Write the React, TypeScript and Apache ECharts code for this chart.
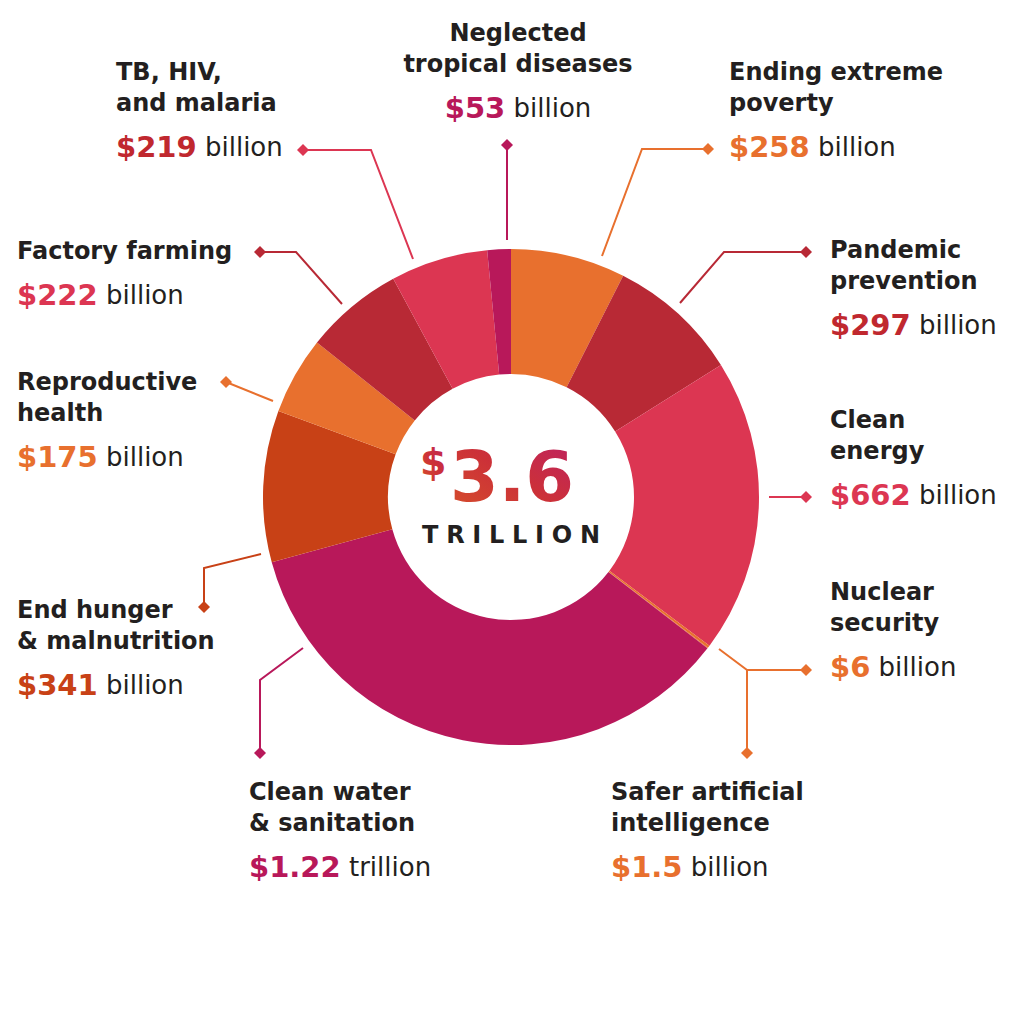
import { useEffect, useRef } from "react";
import * as echarts from "echarts";

// Funding needs, in billions of dollars, clockwise from 12 o'clock
const categories = [
    "Ending extreme poverty",
    "Pandemic prevention",
    "Clean energy",
    "Nuclear security",
    "Safer artificial intelligence",
    "Clean water & sanitation",
    "End hunger & malnutrition",
    "Reproductive health",
    "Factory farming",
    "TB, HIV, and malaria",
    "Neglected tropical diseases",
];
const values = [258, 297, 662, 6, 1.5, 1220, 341, 175, 222, 219, 53];
const titleLines = [
    ["Ending extreme", "poverty"],
    ["Pandemic", "prevention"],
    ["Clean", "energy"],
    ["Nuclear", "security"],
    ["Safer artificial", "intelligence"],
    ["Clean water", "& sanitation"],
    ["End hunger", "& malnutrition"],
    ["Reproductive", "health"],
    ["Factory farming"],
    ["TB, HIV,", "and malaria"],
    ["Neglected", "tropical diseases"],
];
const amountLabels = ["$258", "$297", "$662", "$6", "$1.5", "$1.22", "$341", "$175", "$222", "$219", "$53"];
const unitLabels = ["billion", "billion", "billion", "billion", "billion", "trillion", "billion", "billion", "billion", "billion", "billion"];
const totalDollar = "$";
const totalAmount = "3.6";
const totalUnit = "TRILLION";

// styles
const ORANGE = "#E8702E";
const DARK_RED = "#B82935";
const PINK_RED = "#DC3652";
const MAGENTA = "#B8185A";
const BURNT = "#C84116";
const INK = "#231F20";
const FONT = "'DejaVu Sans', Verdana, sans-serif";

const sliceColors = [ORANGE, DARK_RED, PINK_RED, ORANGE, ORANGE, MAGENTA, BURNT, ORANGE, DARK_RED, PINK_RED, MAGENTA];
const amountColors = [ORANGE, "#C0282F", PINK_RED, ORANGE, ORANGE, MAGENTA, BURNT, ORANGE, PINK_RED, "#C0282F", MAGENTA];
const leaderColors = [ORANGE, DARK_RED, PINK_RED, ORANGE, ORANGE, MAGENTA, BURNT, ORANGE, DARK_RED, PINK_RED, MAGENTA];

// annotation layout: leader polyline, diamond end, text anchor (x, first baseline)
const layout: { line: number[][]; diamond: number[]; x: number; base: number; align: string }[] = [
    { line: [[602, 256], [642, 149], [708, 149]], diamond: [708, 149], x: 729, base: 80, align: "left" },
    { line: [[680, 303], [724, 252], [806, 252]], diamond: [806, 252], x: 830, base: 258, align: "left" },
    { line: [[769, 497], [806, 497]], diamond: [806, 497], x: 830, base: 428, align: "left" },
    { line: [[747, 670], [806, 670]], diamond: [806, 670], x: 830, base: 600, align: "left" },
    { line: [[719, 649], [747, 670], [747, 753]], diamond: [747, 753], x: 611, base: 800, align: "left" },
    { line: [[303, 648], [260, 680], [260, 753]], diamond: [260, 753], x: 249, base: 800, align: "left" },
    { line: [[261, 554], [204, 568], [204, 607]], diamond: [204, 607], x: 17, base: 618, align: "left" },
    { line: [[273, 401], [226, 382]], diamond: [226, 382], x: 17, base: 390, align: "left" },
    { line: [[342, 304], [296, 252], [260, 252]], diamond: [260, 252], x: 17, base: 259, align: "left" },
    { line: [[413, 259], [371, 150], [303, 150]], diamond: [303, 150], x: 116, base: 80, align: "left" },
    { line: [[507, 240], [507, 145]], diamond: [507, 145], x: 518, base: 41, align: "center" },
];

const TITLE_SIZE = 24;
const AMOUNT_SIZE = 29;
const UNIT_SIZE = 26;
const LINE_GAP = 31.5;
const VALUE_GAP = 46;
const MID = 0.346; // central baseline offset, in em

function buildGraphics(): any[] {
    const out: any[] = [];
    categories.forEach((_, i) => {
        const L = layout[i];
        const color = leaderColors[i];
        out.push({
            type: "polyline",
            silent: true,
            shape: { points: L.line },
            style: { stroke: color, lineWidth: 2, fill: null },
        });
        const [dx, dy] = L.diamond;
        out.push({
            type: "polygon",
            silent: true,
            shape: { points: [[dx, dy - 6], [dx + 6, dy], [dx, dy + 6], [dx - 6, dy]] },
            style: { fill: color },
        });
        titleLines[i].forEach((t, k) => {
            out.push({
                type: "text",
                silent: true,
                x: L.x,
                y: L.base + k * LINE_GAP - MID * TITLE_SIZE,
                style: {
                    text: t,
                    fill: INK,
                    fontSize: TITLE_SIZE,
                    fontWeight: "bold",
                    fontFamily: FONT,
                    align: L.align,
                    verticalAlign: "middle",
                },
            });
        });
        const vb = L.base + (titleLines[i].length - 1) * LINE_GAP + VALUE_GAP;
        out.push({
            type: "text",
            silent: true,
            x: L.x,
            y: vb - MID * AMOUNT_SIZE,
            style: {
                text: `{a|${amountLabels[i]}}{u| ${unitLabels[i]}}`,
                align: L.align,
                verticalAlign: "middle",
                rich: {
                    a: { fill: amountColors[i], fontSize: AMOUNT_SIZE, fontWeight: "bold", fontFamily: FONT },
                    u: { fill: INK, fontSize: UNIT_SIZE, fontWeight: "normal", fontFamily: FONT },
                },
            },
        });
    });

    // centre total
    out.push({
        type: "text",
        silent: true,
        x: 420,
        y: 475 - MID * 38,
        style: {
            text: totalDollar,
            fontSize: 38,
            fontWeight: "bold",
            fontFamily: FONT,
            align: "left",
            verticalAlign: "middle",
            fill: "#CB3242",
        },
    });
    out.push({
        type: "text",
        silent: true,
        x: 450,
        y: 501 - MID * 70,
        style: {
            text: totalAmount,
            fontSize: 70,
            fontWeight: "bold",
            fontFamily: FONT,
            align: "left",
            verticalAlign: "middle",
            fill: "#CB3242",
        },
    });
    out.push({
        type: "text",
        silent: true,
        x: 511,
        y: 543 - MID * 24,
        style: {
            text: totalUnit,
            fill: INK,
            fontSize: 24,
            fontWeight: "bold",
            fontFamily: FONT,
            align: "center",
            verticalAlign: "middle",
        },
    });
    return out;
}

const SVG_NS = "http://www.w3.org/2000/svg";

// gradient fill for the total and letter spacing for its unit (SVG renderer only)
function finishCentre(root: HTMLElement) {
    const svg = root.querySelector("svg");
    if (!svg) return;
    let defs = svg.querySelector("defs");
    if (!defs) {
        defs = document.createElementNS(SVG_NS, "defs");
        svg.insertBefore(defs, svg.firstChild);
    }
    const grad = document.createElementNS(SVG_NS, "linearGradient");
    grad.setAttribute("id", "total-grad");
    grad.setAttribute("x1", "0");
    grad.setAttribute("y1", "1");
    grad.setAttribute("x2", "1");
    grad.setAttribute("y2", "0");
    [
        ["0", "#D6502A"],
        ["0.5", "#CC3138"],
        ["1", "#BD2162"],
    ].forEach(([o, c]) => {
        const stop = document.createElementNS(SVG_NS, "stop");
        stop.setAttribute("offset", o);
        stop.setAttribute("stop-color", c);
        grad.appendChild(stop);
    });
    defs.appendChild(grad);

    root.querySelectorAll("text").forEach((t) => {
        const content = t.textContent;
        if (content === totalDollar || content === totalAmount) {
            t.setAttribute("fill", "url(#total-grad)");
            (t as SVGTextElement).style.fill = "url(#total-grad)";
        }
        if (content === totalUnit) {
            const len = (t as SVGTextElement).getComputedTextLength();
            const s = Math.max(0, (178 - len) / 7);
            t.setAttribute("letter-spacing", `${s}px`);
            const x = parseFloat(t.getAttribute("x") || "0");
            t.setAttribute("x", String(x + s / 2));
        }
    });
}

export default function App() {
    const chartRef = useRef<HTMLDivElement | null>(null);

    useEffect(() => {
        document.body.style.margin = "0";
        if (!chartRef.current) return;
        const chart = echarts.init(chartRef.current, null, { renderer: "svg" });

        chart.setOption({
            animation: false,
            backgroundColor: "#ffffff",
            series: [
                {
                    type: "pie",
                    center: [511, 497],
                    radius: [123, 248],
                    startAngle: 90,
                    clockwise: true,
                    silent: true,
                    avoidLabelOverlap: false,
                    label: { show: false },
                    labelLine: { show: false },
                    itemStyle: { borderWidth: 0 },
                    data: categories.map((name, i) => ({
                        name,
                        value: values[i],
                        itemStyle: { color: sliceColors[i] },
                    })),
                },
            ],
            graphic: buildGraphics(),
        });

        finishCentre(chartRef.current);

        return () => {
            chart.dispose();
        };
    }, []);

    return <div ref={chartRef} style={{ width: 1024, height: 1024 }} />;
}
